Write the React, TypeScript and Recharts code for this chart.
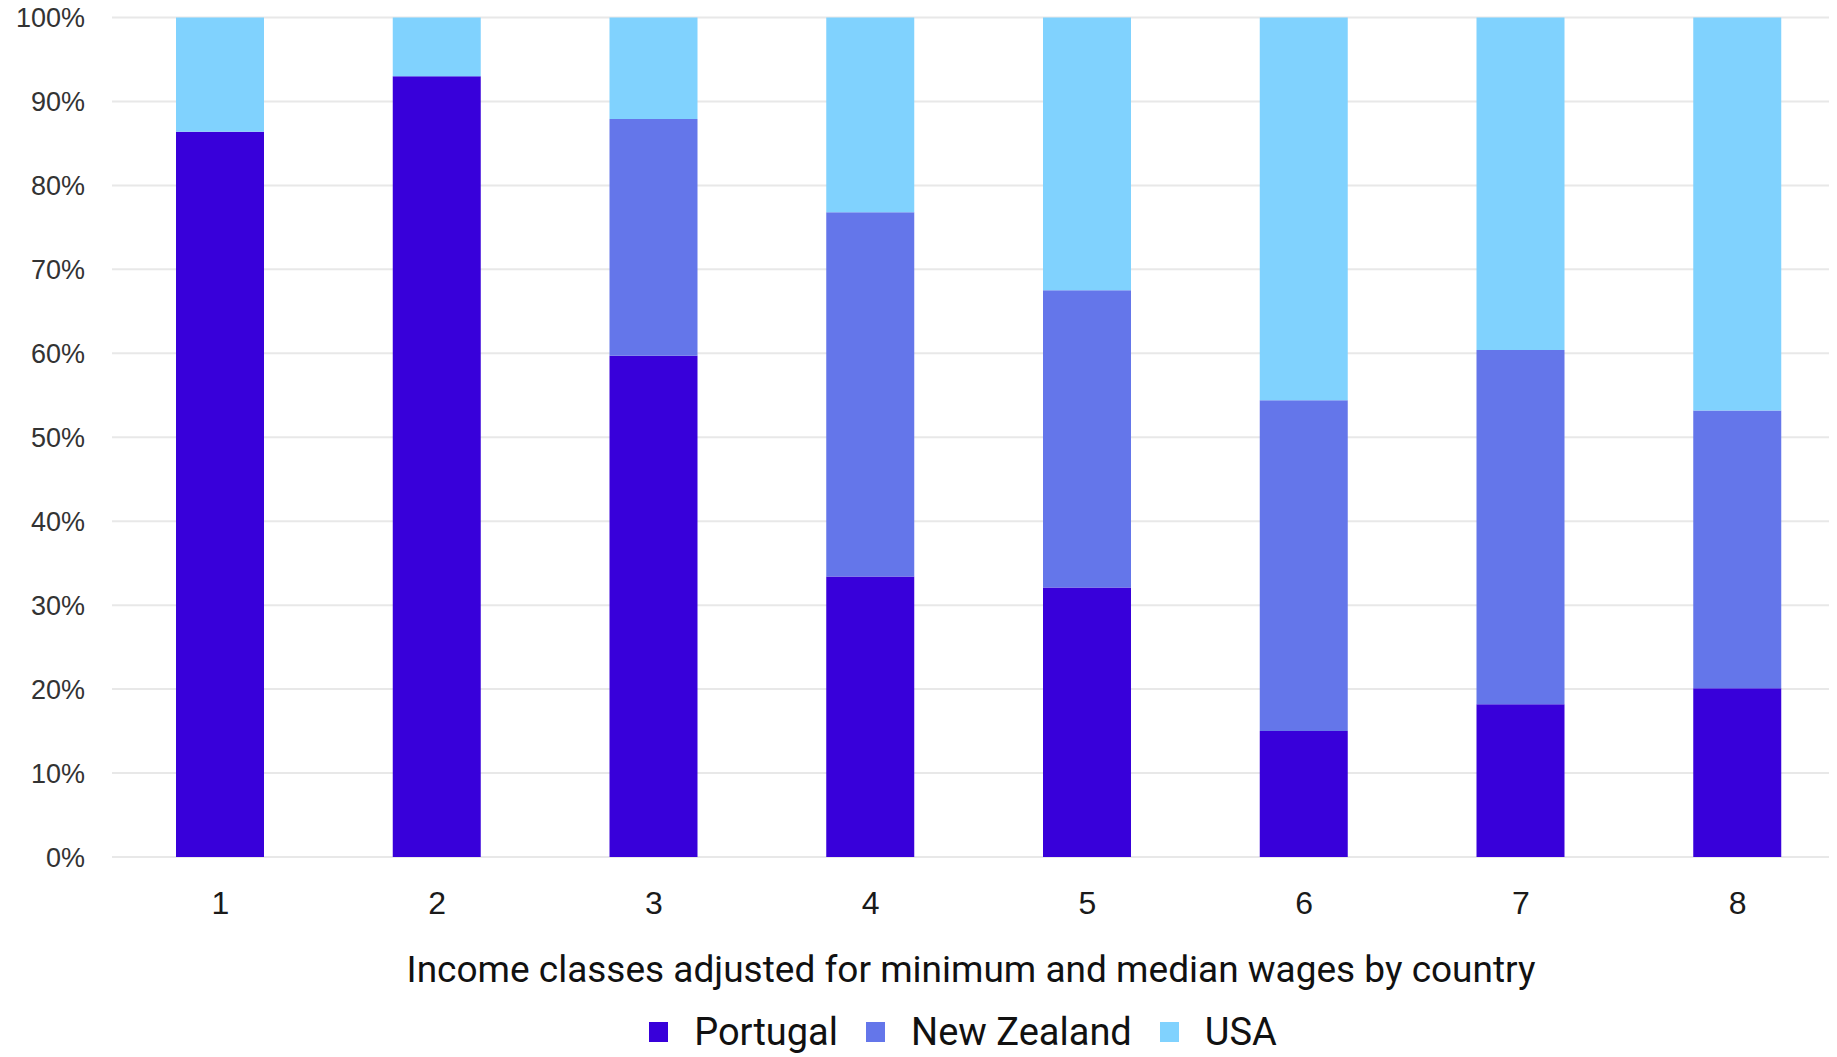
import React from "react";
import { BarChart, Bar, XAxis, YAxis, CartesianGrid, Legend } from "recharts";

const incomeClasses = ["1", "2", "3", "4", "5", "6", "7", "8"];
const portugal = [86.4, 93.0, 59.7, 33.4, 32.1, 15.0, 18.2, 20.1];
const newZealand = [0, 0, 28.2, 43.4, 35.4, 39.4, 42.2, 33.1];
const usa = [13.6, 7.0, 12.1, 23.2, 32.5, 45.6, 39.6, 46.8];
const yTicks = [0, 10, 20, 30, 40, 50, 60, 70, 80, 90, 100];

const seriesNames = ["Portugal", "New Zealand", "USA"];
const seriesColors = ["#3800DA", "#6476EA", "#80D2FE"];
const xTitle = "Income classes adjusted for minimum and median wages by country";

const data = incomeClasses.map((c, i) => ({
  name: c,
  Portugal: portugal[i],
  "New Zealand": newZealand[i],
  USA: usa[i],
}));

const renderLegend = () => (
  <div
    style={{
      display: "flex",
      justifyContent: "center",
      alignItems: "center",
      paddingLeft: 108,
      paddingTop: 6,
      boxSizing: "border-box",
      fontFamily: "Roboto, sans-serif",
      fontSize: 38,
      lineHeight: "38px",
      color: "#111",
    }}
  >
    {seriesNames.map((n, i) => (
      <div key={n} style={{ display: "flex", alignItems: "center", marginRight: 28 }}>
        <div style={{ width: 19, height: 20, background: seriesColors[i], marginRight: 26 }} />
        <span>{n}</span>
      </div>
    ))}
  </div>
);

const TitleLabel = (props: any) => {
  const vb = props.viewBox || {};
  return (
    <text
      x={vb.x + vb.width / 2 - 8}
      y={vb.y + vb.height - 25}
      textAnchor="middle"
      fontFamily="Roboto, sans-serif"
      fontSize={37}
      fill="#111"
    >
      {xTitle}
    </text>
  );
};

export default function App() {
  return (
    <div style={{ width: 1837, height: 1057, overflow: "hidden", margin: "-8px 0 0 -8px" }}>
      <BarChart
        width={1846}
        height={1057}
        data={data}
        margin={{ top: 17.5, right: 0, bottom: 0, left: 0 }}
      >
        <CartesianGrid vertical={false} stroke="#e8e8e8" strokeWidth={2} />
        <XAxis
          dataKey="name"
          axisLine={false}
          tickLine={false}
          tickSize={0}
          tickMargin={34}
          height={150}
          tick={{ fontFamily: "'Liberation Sans', Arial, sans-serif", fontSize: 32, fill: "#1a1a1a" }}
          label={<TitleLabel />}
        />
        <YAxis
          domain={[0, 100]}
          ticks={yTicks}
          interval={0}
          width={112}
          axisLine={false}
          tickLine={false}
          tickSize={0}
          tickMargin={27}
          tickFormatter={(v: number) => `${v}%`}
          tick={{ fontFamily: "'Liberation Sans', Arial, sans-serif", fontSize: 27, fill: "#333" }}
        />
        <Legend verticalAlign="bottom" height={50} content={renderLegend} />
        {seriesNames.map((n, i) => (
          <Bar
            key={n}
            dataKey={n}
            stackId="a"
            fill={seriesColors[i]}
            barSize={88}
            isAnimationActive={false}
          />
        ))}
      </BarChart>
    </div>
  );
}
